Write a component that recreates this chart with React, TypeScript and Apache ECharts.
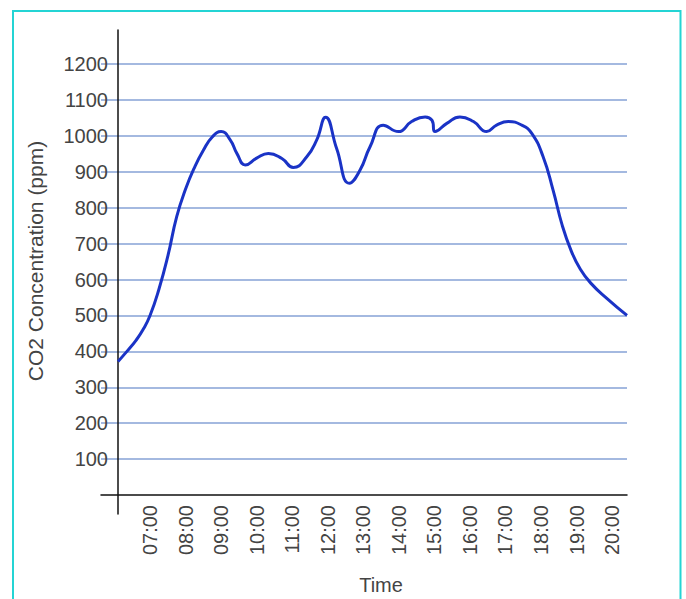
import React, { useEffect, useRef } from "react";
import * as echarts from "echarts";

// Time in decimal hours, CO2 concentration in ppm
const hours = [
  6.1, 6.35, 6.6, 6.8, 7.0, 7.25, 7.5, 7.75, 8.0, 8.25, 8.5, 8.75, 9.0, 9.25, 9.45, 9.68, 10.0,
  10.33, 10.71, 11.03, 11.41, 11.69, 11.94, 12.25, 12.61, 12.91, 13.19,
  13.56, 13.99, 14.36, 14.74, 14.93, 15.02, 15.35, 15.72, 16.1, 16.47, 16.75,
  17.08, 17.46, 17.74, 18.06, 18.34, 18.6, 18.85, 19.1, 19.4, 19.86, 20.42,
];
const co2 = [
  372, 400, 430, 460, 500, 573, 665, 775, 852, 912, 960, 997, 1012, 990, 950, 919, 938,
  951, 937, 912, 942, 989, 1052, 965, 868, 905, 970,
  1030, 1012, 1040, 1053, 1044, 1012, 1035, 1053, 1040, 1012, 1030,
  1040, 1030, 1007, 942, 849, 750, 680, 630, 590, 547, 500,
];
const hourTicks = [7, 8, 9, 10, 11, 12, 13, 14, 15, 16, 17, 18, 19, 20];
const hourLabels = [
  "07:00", "08:00", "09:00", "10:00", "11:00", "12:00", "13:00",
  "14:00", "15:00", "16:00", "17:00", "18:00", "19:00", "20:00",
];
const yTicks = [100, 200, 300, 400, 500, 600, 700, 800, 900, 1000, 1100, 1200];
const xTitle = "Time";
const yTitle = "CO2 Concentration (ppm)";

const FONT = "'Liberation Sans', Arial, sans-serif";

export default function App() {
  const ref = useRef<HTMLDivElement>(null);
  useEffect(() => {
    const chart = echarts.init(ref.current!, null, { renderer: "svg" });
    chart.setOption({
      animation: false,
      backgroundColor: "#ffffff",
      textStyle: { fontFamily: FONT },
      grid: { left: 101, right: 59, top: 30, bottom: 85, containLabel: false },
      xAxis: {
        type: "value",
        min: 5.62,
        max: 20.42,
        axisLine: { onZero: true, lineStyle: { color: "#111", width: 1.5 } },
        axisTick: { show: false, customValues: hourTicks },
        splitLine: { show: false },
        axisLabel: {
          customValues: hourTicks,
          rotate: 90,
          margin: -9,
          fontSize: 20,
          color: "#444",
          fontFamily: FONT,
          formatter: (v: number) => hourLabels[hourTicks.indexOf(Math.round(v))] ?? "",
        },
      },
      yAxis: {
        type: "value",
        min: -53,
        max: 1295,
        offset: -17,
        axisLine: { show: true, onZero: false, lineStyle: { color: "#111", width: 1.5 } },
        axisTick: { show: false, customValues: yTicks },
        splitLine: { show: true, lineStyle: { color: "#86a2d6", width: 1.5 } },
        axisLabel: {
          customValues: yTicks,
          margin: 10,
          fontSize: 20,
          color: "#444",
          fontFamily: FONT,
          formatter: (v: number) => String(v),
        },
      },
      graphic: [
        {
          type: "rect",
          shape: { x: 13, y: 11, width: 667.5, height: 700 },
          style: { fill: "none", stroke: "#24d4d4", lineWidth: 2 },
          silent: true,
        },
        {
          type: "text",
          x: 381,
          y: 585,
          style: {
            text: xTitle,
            font: `20px ${FONT}`,
            fill: "#444",
            align: "center",
            verticalAlign: "middle",
          },
        },
        {
          type: "text",
          x: 35,
          y: 261,
          rotation: Math.PI / 2,
          style: {
            text: yTitle,
            font: `21px ${FONT}`,
            fill: "#444",
            align: "center",
            verticalAlign: "middle",
          },
        },
      ],
      series: [
        {
          type: "line",
          data: hours.map((h, i) => [h, co2[i]]),
          smooth: 0.5,
          showSymbol: false,
          lineStyle: { color: "#1a33c6", width: 3 },
        },
      ],
    });
    return () => chart.dispose();
  }, []);
  return (
    <div
      ref={ref}
      style={{ position: "fixed", left: 0, top: 0, width: 686, height: 599, background: "#fff" }}
    />
  );
}
